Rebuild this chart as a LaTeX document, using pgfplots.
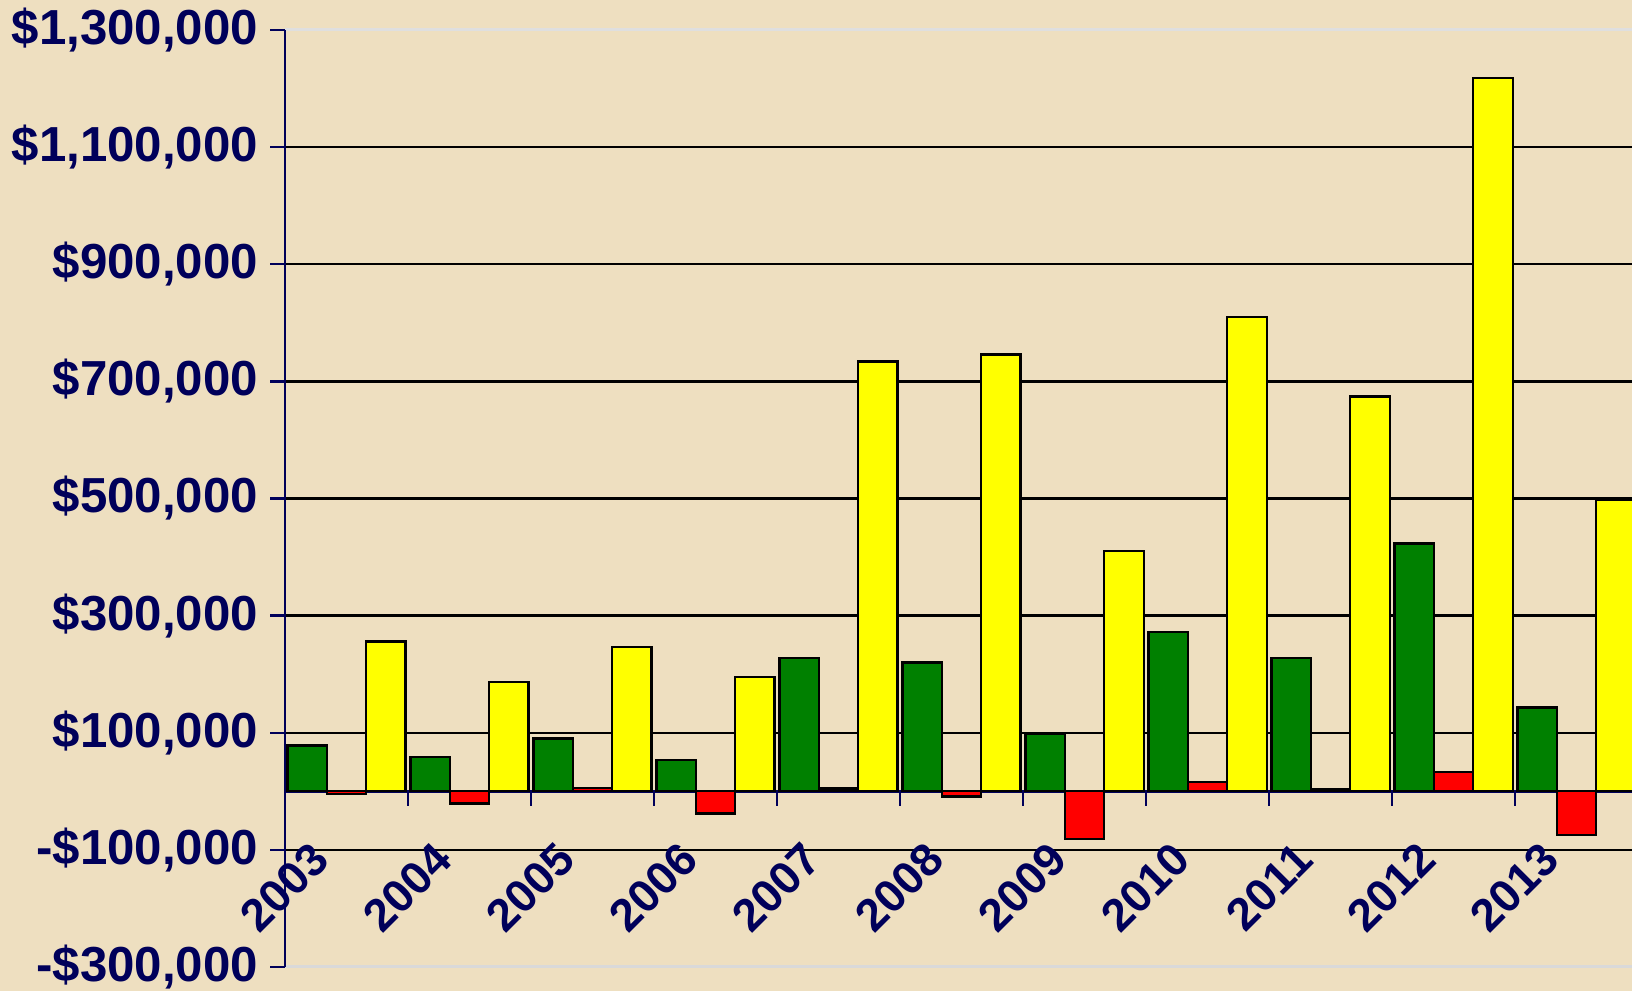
\documentclass[border=0pt]{standalone}
\usepackage{pgfplots}
\pgfplotsset{compat=1.18}
\usepackage{fontspec}
\setmainfont{Liberation Sans}

\definecolor{parch}{RGB}{238,223,192}
\definecolor{navy}{RGB}{0,0,90}
\definecolor{bargreen}{RGB}{0,128,0}
\definecolor{barred}{RGB}{255,0,0}
\definecolor{baryellow}{RGB}{255,255,0}

\begin{document}
\begin{tikzpicture}
\fill[parch] (-2.85,-0.24) rectangle (13.47,9.67);
\begin{axis}[
    name=ax, at={(0,0)}, anchor=south west,
    scale only axis, width=13.47cm, height=9.37cm,
    xmin=0.5, xmax=11.45,
    ymin=-300000, ymax=1300000,
    axis x line=middle, axis y line=left,
    axis line style={navy, line width=0.7pt, -},
    tick align=outside, major tick length=1.45mm,
    tick style={navy, line width=0.7pt},
    xtick={1.5,2.5,...,10.5}, xticklabels={},
    extra x ticks={1,...,11},
    extra x tick labels={2003,2004,2005,2006,2007,2008,2009,2010,2011,2012,2013},
    extra x tick style={major tick length=0pt,
        tick label style={xshift=-0.26cm, yshift=-0.60cm, rotate=45, anchor=east, inner sep=0pt,
                          font=\bfseries\fontsize{13}{15}\selectfont}},
    ytick={-300000,-100000,100000,300000,500000,700000,900000,1100000,1300000},
    yticklabels={{-\$300,000},{-\$100,000},{\$100,000},{\$300,000},{\$500,000},
                 {\$700,000},{\$900,000},{\$1,100,000},{\$1,300,000}},
    scaled y ticks=false,
    ymajorgrids, grid style={black, line width=0.65pt},
    tick label style={font=\bfseries\fontsize{14}{16}\selectfont, text=navy},
    every axis plot/.append style={ybar, bar width=0.32, draw=black, line width=0.65pt},
]
% net income
\addplot[fill=bargreen, bar shift=-0.32] coordinates {
    (1,78000) (2,58000) (3,90000) (4,53000) (5,228000) (6,220000)
    (7,98000) (8,272000) (9,228000) (10,423000) (11,143000)
};
% change
\addplot[fill=barred, bar shift=0] coordinates {
    (1,-5000) (2,-21000) (3,6000) (4,-38000) (5,5000) (6,-9000)
    (7,-82000) (8,16000) (9,4000) (10,33000) (11,-74000)
};
% revenue
\addplot[fill=baryellow, bar shift=0.32] coordinates {
    (1,256000) (2,187000) (3,247000) (4,195000) (5,734000) (6,746000)
    (7,410000) (8,810000) (9,674000) (10,1218000) (11,497000)
};
\end{axis}
\draw[white!75!gray, line width=0.3mm] (ax.north west) -- (ax.north east);
\draw[white!70!gray, line width=0.3mm] (ax.south west) -- (ax.south east);
\draw[navy, line width=0.7pt] (ax.south west) -- (ax.north west);
\pgfresetboundingbox
\path (-2.85,-0.24) rectangle (13.47,9.67);
\end{tikzpicture}
\end{document}
